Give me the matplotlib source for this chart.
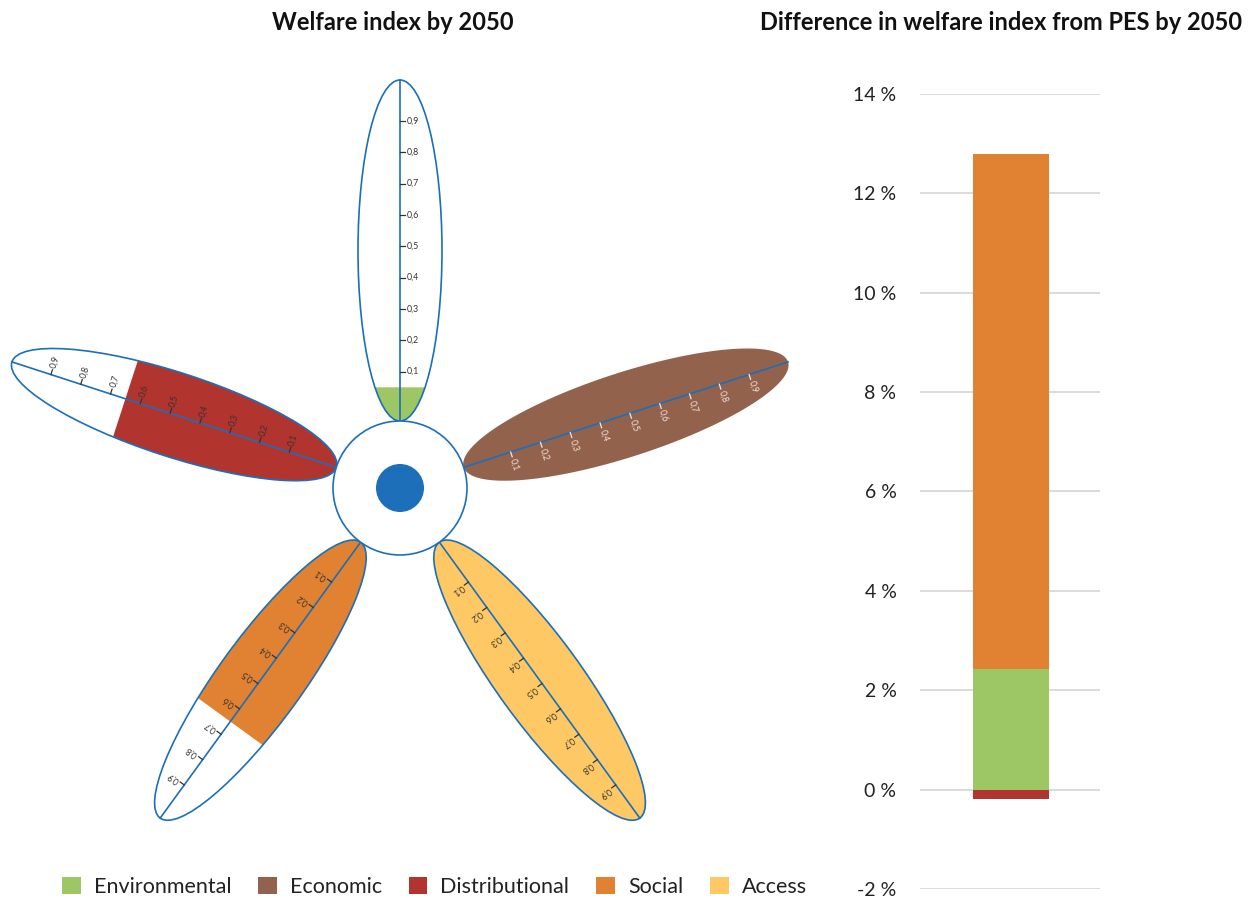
import numpy as np
import matplotlib.pyplot as plt
from matplotlib.patches import Ellipse, Circle, Polygon, Patch

plt.rcParams['font.family'] = ['Lato', 'DejaVu Sans']

# data
dimensions = ["Environmental", "Economic", "Distributional", "Social", "Access"]
colors = ["#9dc764", "#93624d", "#b2342f", "#e08231", "#fec965"]
welfare_index = [0.05, 1.0, 0.65, 0.65, 1.0]          # petal fill, 0..1
petal_angles = [90, 18, 162, 234, 306]                 # degrees
diff_from_pes = [2.42, 0.0, -0.18, 10.38, 0.0]         # % points, stacked
yticks = [-2, 0, 2, 4, 6, 8, 10, 12, 14]

BLUE = "#1c6fb8"
W, H = 1258, 898

fig = plt.figure(figsize=(W / 100, H / 100), dpi=100)

# ---- flower (axes in pixel units, y up) ----
ax = fig.add_axes([0, 0, 1, 1])
ax.set_xlim(0, W)
ax.set_ylim(0, H)
ax.axis('off')

cx, cy = 400, H - 488
r_in = 67          # inner circle
tip = 408          # outer tip distance
a = (tip - r_in) / 2
b = 42
c = r_in + a       # ellipse centre distance


def scale(v):
    return 85 + v * 313.4


for name, col, v, th in zip(dimensions, colors, welfare_index, petal_angles):
    t = np.radians(th)
    u = np.array([np.cos(t), np.sin(t)])      # along petal
    n = np.array([np.cos(t - np.pi / 2), np.sin(t - np.pi / 2)])  # label side

    def to_xy(al, ac):
        return cx + al * u[0] + ac * n[0], cy + al * u[1] + ac * n[1]

    ecx, ecy = to_xy(c, 0)
    ax.add_patch(Ellipse((ecx, ecy), 2 * a, 2 * b, angle=th,
                         facecolor='white', edgecolor='none', zorder=1))
    # filled part up to value
    L = tip if v >= 1 else scale(v)
    t0 = np.arccos(np.clip((L - c) / a, -1, 1))
    ts = np.linspace(t0, 2 * np.pi - t0, 200)
    pts = [to_xy(c + a * np.cos(s), b * np.sin(s)) for s in ts]
    ax.add_patch(Polygon(pts, closed=True, facecolor=col, edgecolor='none', zorder=2))
    ec = 'none' if name == "Economic" else BLUE
    ax.add_patch(Ellipse((ecx, ecy), 2 * a, 2 * b, angle=th,
                         facecolor='none', edgecolor=ec, lw=1.2, zorder=3))
    # axis line
    x0, y0 = to_xy(r_in, 0)
    x1, y1 = to_xy(tip, 0)
    ax.plot([x0, x1], [y0, y1], color=BLUE, lw=1.2, zorder=4)
    tcol = "#f3e6df" if name == "Economic" else "#333333"
    for k in range(1, 10):
        d = scale(k / 10)
        p0 = to_xy(d, 0)
        p1 = to_xy(d, 5)
        ax.plot([p0[0], p1[0]], [p0[1], p1[1]], color=tcol, lw=0.9, zorder=4)
        lx, ly = to_xy(d, 7)
        ax.text(lx, ly, f"0,{k}", rotation=th - 90, rotation_mode='anchor',
                ha='left', va='center', fontsize=6.3, color=tcol, zorder=5)

ax.add_patch(Circle((cx, cy), r_in, facecolor='white', edgecolor=BLUE, lw=1.2, zorder=6))
ax.add_patch(Circle((cx, cy), 24, facecolor=BLUE, edgecolor='none', zorder=7))

fig.text(393 / W, 1 - 22 / H, "Welfare index by 2050", ha='center', va='center',
         fontsize=17, fontweight='bold', color='#111111')
fig.text(1001 / W, 1 - 22 / H, "Difference in welfare index from PES by 2050",
         ha='center', va='center', fontsize=17, fontweight='bold', color='#111111')

# ---- stacked bar ----
bx = fig.add_axes([920 / W, (H - 889) / H, 180 / W, (889 - 94) / H])
pos_base, neg_base = 0.0, 0.0
for name, col, val in zip(dimensions, colors, diff_from_pes):
    if val >= 0:
        bx.bar(0.506, val, width=0.422, bottom=pos_base, color=col, zorder=3)
        pos_base += val
    else:
        bx.bar(0.506, val, width=0.422, bottom=neg_base, color=col, zorder=3)
        neg_base += val
bx.set_xlim(0, 1)
bx.set_ylim(-2, 14)
bx.set_yticks(yticks)
bx.set_yticklabels([f"{v} %" for v in yticks])
bx.tick_params(axis='y', length=0, pad=17, labelsize=14, labelcolor='#222222')
bx.set_xticks([])
bx.grid(axis='y', color='#d4d4d4', lw=1.2, zorder=0)
for s in bx.spines.values():
    s.set_visible(False)

# ---- legend ----
handles = [Patch(facecolor=col, edgecolor='none', label=nm) for nm, col in zip(dimensions, colors)]
fig.legend(handles=handles, loc='center left', bbox_to_anchor=(62 / W, 1 - 887 / H),
           ncol=5, frameon=False, fontsize=15.5, handlelength=0.87, handleheight=0.87,
           handletextpad=0.6, columnspacing=1.25, borderaxespad=0, borderpad=0,
           labelcolor='#222222')

fig.savefig("out.png", dpi=100)
